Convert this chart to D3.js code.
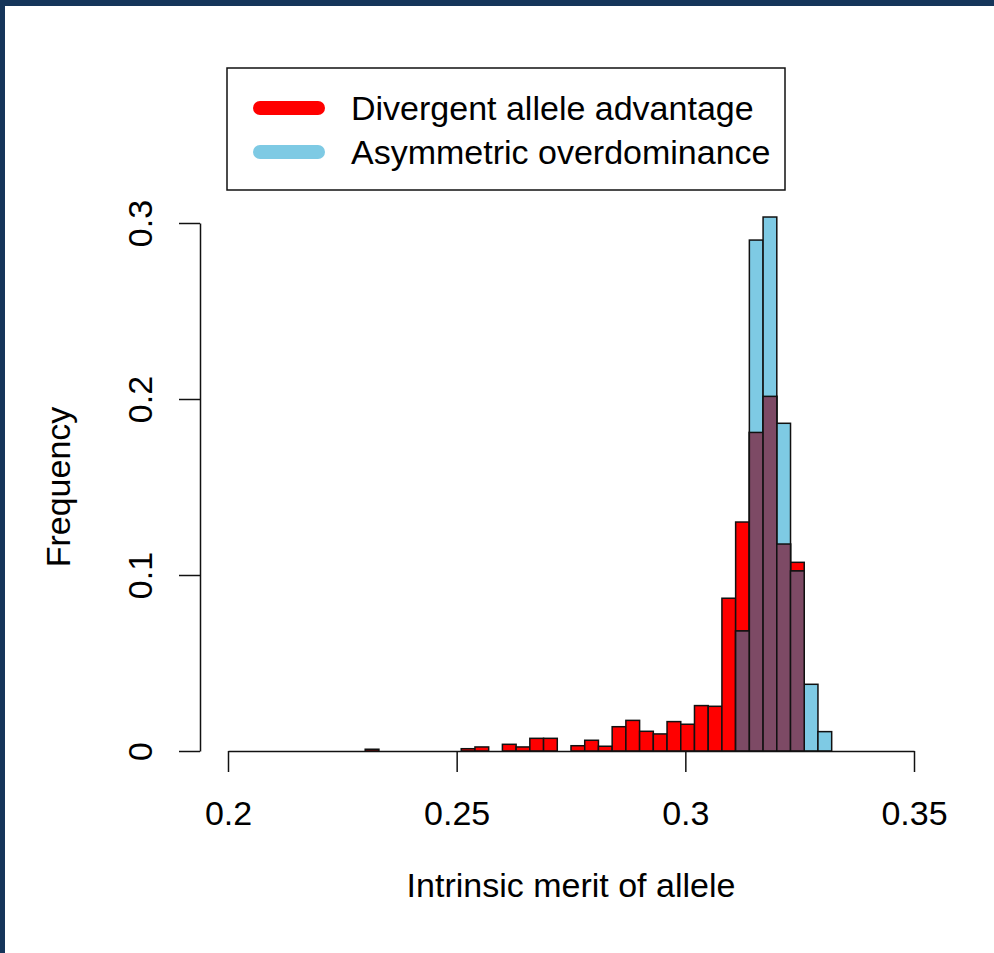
<!DOCTYPE html>
<html>
<head>
<meta charset="utf-8">
<script src="https://cdn.jsdelivr.net/npm/d3@7"></script>
<style>
  html, body { margin: 0; padding: 0; background: #ffffff; }
  svg { display: block; }
  text { font-family: "Liberation Sans", Arial, Helvetica, sans-serif; fill: #000; }
</style>
</head>
<body>
<svg id="chart" width="994" height="953"></svg>
<script>
// ---- data ----
const binStart = 0.2;
const binWidth = 0.003;
const binCount = 50;
// Divergent allele advantage (red), frequency per bin
const divergentFreq = [
  0, 0, 0, 0, 0, 0, 0, 0, 0, 0,
  0.001, 0, 0, 0, 0, 0, 0, 0.0013, 0.0023, 0,
  0.0038, 0.0023, 0.0072, 0.0072, 0, 0.003, 0.0061, 0.0027, 0.0138, 0.0174,
  0.0112, 0.0097, 0.0167, 0.0152, 0.0258, 0.0254, 0.0868, 0.1301, 0.181, 0.2015,
  0.1176, 0.1072, 0, 0, 0, 0, 0, 0, 0, 0
];
// Asymmetric overdominance (blue), frequency per bin
const asymmetricFreq = [
  0, 0, 0, 0, 0, 0, 0, 0, 0, 0,
  0, 0, 0, 0, 0, 0, 0, 0, 0, 0,
  0, 0, 0, 0, 0, 0, 0, 0, 0, 0,
  0, 0, 0, 0, 0, 0, 0, 0.0682, 0.2903, 0.3034,
  0.1862, 0.1023, 0.0379, 0.011, 0, 0, 0, 0, 0, 0
];
const seriesNames = ["Divergent allele advantage", "Asymmetric overdominance"];
const xTicks = [0.2, 0.25, 0.3, 0.35];
const xTickLabels = ["0.2", "0.25", "0.3", "0.35"];
const yTicks = [0, 0.1, 0.2, 0.3];
const yTickLabels = ["0", "0.1", "0.2", "0.3"];

// ---- styles ----
const RED = "#ff0000", BLUE = "#7ecae4", PURPLE = "#7d4a65", STROKE = "#111";
const FONT = 34;

const svg = d3.select("#chart");

// dark frame
svg.append("rect").attr("x", 0).attr("y", 0).attr("width", 994).attr("height", 6).attr("fill", "#15355a");
svg.append("rect").attr("x", 0).attr("y", 0).attr("width", 5).attr("height", 953).attr("fill", "#15355a");

const x = d3.scaleLinear().domain([0.2, 0.35]).range([228, 914]);
const y = d3.scaleLinear().domain([0, 0.3]).range([751, 223]);

const bins = d3.range(binCount).map(i => ({
  x0: binStart + i * binWidth,
  x1: binStart + (i + 1) * binWidth,
  a: divergentFreq[i],
  b: asymmetricFreq[i]
}));

function drawBars(cls, getV, fill) {
  svg.append("g").attr("class", cls)
    .selectAll("rect")
    .data(bins.filter(d => getV(d) > 0))
    .join("rect")
    .attr("x", d => x(d.x0))
    .attr("width", d => x(d.x1) - x(d.x0))
    .attr("y", d => y(getV(d)))
    .attr("height", d => y(0) - y(getV(d)))
    .attr("fill", fill)
    .attr("stroke", STROKE)
    .attr("stroke-width", 1.5);
}
drawBars("red", d => d.a, RED);
drawBars("blue", d => d.b, BLUE);
drawBars("overlap", d => Math.min(d.a, d.b), PURPLE);

// x axis at y = 0
const xAxis = d3.axisBottom(x).tickValues(xTicks).tickSize(21).tickSizeOuter(0)
  .tickFormat((d, i) => xTickLabels[i]);
const gx = svg.append("g").attr("transform", `translate(0,${y(0)})`).call(xAxis);
gx.select(".domain").attr("stroke", STROKE).attr("stroke-width", 1.5);
gx.selectAll(".tick line").attr("stroke", STROKE).attr("stroke-width", 1.5);
gx.selectAll(".tick text").attr("y", 74).attr("dy", 0)
  .style("font-size", FONT + "px").style("font-family", '"Liberation Sans", Arial, sans-serif').attr("fill", "#000");

// y axis
const yAxis = d3.axisLeft(y).tickValues(yTicks).tickSize(21).tickSizeOuter(0)
  .tickFormat((d, i) => yTickLabels[i]);
const gy = svg.append("g").attr("transform", `translate(200,0)`).call(yAxis);
gy.select(".domain").attr("stroke", STROKE).attr("stroke-width", 1.5);
gy.selectAll(".tick line").attr("stroke", STROKE).attr("stroke-width", 1.5);
gy.selectAll(".tick text").attr("x", 0).attr("y", 0).attr("dy", 0)
  .attr("transform", "translate(-48,0) rotate(-90)")
  .attr("text-anchor", "middle")
  .style("font-size", FONT + "px").style("font-family", '"Liberation Sans", Arial, sans-serif').attr("fill", "#000");

// axis titles
svg.append("text").attr("x", 571).attr("y", 897).attr("text-anchor", "middle")
  .style("font-size", FONT + "px").text("Intrinsic merit of allele");
svg.append("text").attr("transform", "translate(70,487) rotate(-90)").attr("text-anchor", "middle")
  .style("font-size", FONT + "px").text("Frequency");

// legend
const lg = svg.append("g");
lg.append("rect").attr("x", 227).attr("y", 68).attr("width", 558).attr("height", 122)
  .attr("fill", "#fff").attr("stroke", STROKE).attr("stroke-width", 1.5);
const legendColors = [RED, BLUE];
seriesNames.forEach((name, i) => {
  const cy = 108 + i * 44;
  lg.append("line").attr("x1", 260).attr("x2", 318).attr("y1", cy).attr("y2", cy)
    .attr("stroke", legendColors[i]).attr("stroke-width", 14).attr("stroke-linecap", "round");
  lg.append("text").attr("x", 351).attr("y", cy + 12).style("font-size", FONT + "px").text(name);
});
</script>
</body>
</html>
